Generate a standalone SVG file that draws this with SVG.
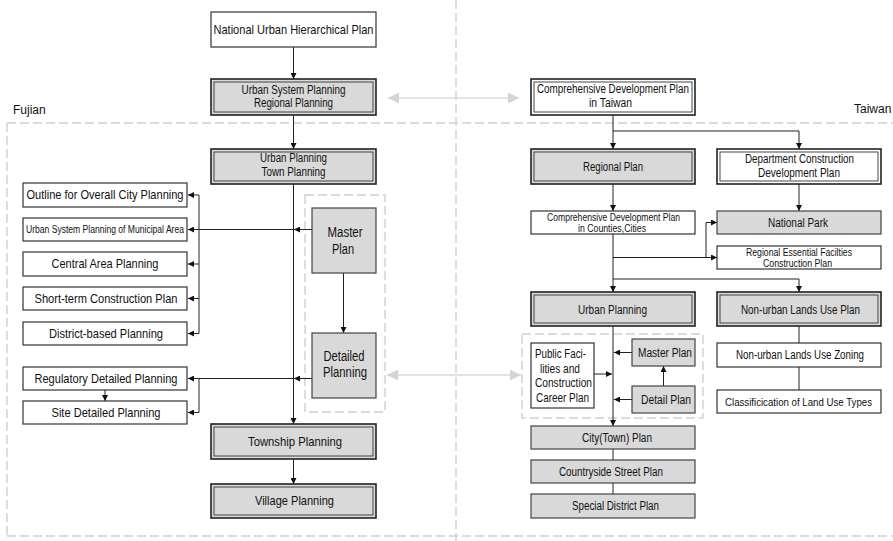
<svg xmlns="http://www.w3.org/2000/svg" width="893" height="541" viewBox="0 0 893 541">
<style>
text{font-family:"Liberation Sans",Arial,sans-serif;fill:#111;text-anchor:middle;font-size:12px}
.s10{font-size:10px}
.s13{font-size:13px}
.s14{font-size:14px}
.w{fill:#fff;stroke:#333;stroke-width:1.2}
.g{fill:#d9d9d9;stroke:#444;stroke-width:1.2}
.o{stroke:#222;stroke-width:1.6}
.i{fill:none;stroke:#333;stroke-width:0.9}
.dash{fill:none;stroke:#cfcfcf;stroke-width:1.4;stroke-dasharray:9 4}
.c{fill:none;stroke:#222;stroke-width:1}
.ga{fill:none;stroke:#dadada;stroke-width:1.5}
.lbl{text-anchor:start}
</style>
<defs>
<marker id="ah" viewBox="0 0 10 10" refX="10" refY="5" markerWidth="6" markerHeight="6" markerUnits="userSpaceOnUse" orient="auto"><path d="M0,0 L10,5 L0,10 z" fill="#111"/></marker>
<marker id="gah" viewBox="0 0 10 10" refX="10" refY="5" markerWidth="11" markerHeight="11" markerUnits="userSpaceOnUse" orient="auto-start-reverse"><path d="M0,0 L10,5 L0,10 z" fill="#d4d4d4"/></marker>
</defs>

<g id="regions">
<path class="dash" d="M456,0 V541"/>
<path class="dash" d="M7,123 H893"/>
<path class="dash" d="M7,536 H893"/>
<path class="dash" d="M7,123 V536"/>
<rect class="dash" x="305" y="195" width="80" height="217"/>
<rect class="dash" x="522" y="334" width="181" height="84"/>
<text class="lbl" x="13" y="114">Fujian</text>
<text class="lbl" x="854" y="113">Taiwan</text>
</g>

<g id="connectors">
<path class="ga" d="M388,98 H519" marker-start="url(#gah)" marker-end="url(#gah)"/>
<path class="ga" d="M387,375 H521" marker-start="url(#gah)" marker-end="url(#gah)"/>
<!-- Fujian -->
<path class="c" d="M293.5,47 V79" marker-end="url(#ah)"/>
<path class="c" d="M293.5,115 V149" marker-end="url(#ah)"/>
<path class="c" d="M293.5,184 V424" marker-end="url(#ah)"/>
<path class="c" d="M293.5,459 V484" marker-end="url(#ah)"/>
<path class="c" d="M343.5,273 V333" marker-end="url(#ah)"/>
<path class="c" d="M312,229.5 H294" marker-end="url(#ah)"/>
<path class="c" d="M293,229.5 H188" marker-end="url(#ah)"/>
<path class="c" d="M199,195 V333.5"/>
<path class="c" d="M199,195 H188" marker-end="url(#ah)"/>
<path class="c" d="M199,264 H188" marker-end="url(#ah)"/>
<path class="c" d="M199,298.5 H188" marker-end="url(#ah)"/>
<path class="c" d="M199,333.5 H188" marker-end="url(#ah)"/>
<path class="c" d="M312,378.5 H294" marker-end="url(#ah)"/>
<path class="c" d="M293,378.5 H188" marker-end="url(#ah)"/>
<path class="c" d="M199,378.5 V412.5 H188" marker-end="url(#ah)"/>
<path class="c" d="M105,390 V401" marker-end="url(#ah)"/>
<!-- Taiwan -->
<path class="c" d="M613,115 V149" marker-end="url(#ah)"/>
<path class="c" d="M613,131 H799 V149" marker-end="url(#ah)"/>
<path class="c" d="M613,184 V211" marker-end="url(#ah)"/>
<path class="c" d="M799,184 V211" marker-end="url(#ah)"/>
<path class="c" d="M613,234 V292" marker-end="url(#ah)"/>
<path class="c" d="M613,257.5 H717" marker-end="url(#ah)"/>
<path class="c" d="M706,257.5 V222.5 H717" marker-end="url(#ah)"/>
<path class="c" d="M613,279 H799 V292" marker-end="url(#ah)"/>
<path class="c" d="M799,326 V343"/>
<path class="c" d="M799,367 V390"/>
<path class="c" d="M613,326 V426" marker-end="url(#ah)"/>
<path class="c" d="M632,352.5 H614" marker-end="url(#ah)"/>
<path class="c" d="M632,399.5 H614" marker-end="url(#ah)"/>
<path class="c" d="M594,374 H612" marker-end="url(#ah)"/>
<path class="c" d="M663.5,386 V366" marker-end="url(#ah)"/>
<path class="c" d="M613,449 V460"/>
<path class="c" d="M613,483 V494"/>
</g>

<!-- Fujian nodes -->
<g id="national-urban-hierarchical-plan">
<rect class="w" x="211" y="12" width="165" height="35"/>
<text class="s13" x="293.5" y="34" textLength="160" lengthAdjust="spacingAndGlyphs">National Urban Hierarchical Plan</text>
</g>
<g id="urban-system-planning">
<rect class="g o" x="211" y="79" width="165" height="36"/>
<rect class="i" x="214" y="82" width="159" height="30"/>
<text x="293.5" y="94" textLength="104" lengthAdjust="spacingAndGlyphs">Urban System Planning</text>
<text x="293.5" y="107" textLength="79" lengthAdjust="spacingAndGlyphs">Regional Planning</text>
</g>
<g id="urban-planning-town-planning">
<rect class="g o" x="211" y="149" width="165" height="35"/>
<rect class="i" x="214" y="152" width="159" height="29"/>
<text x="293.5" y="162" textLength="67" lengthAdjust="spacingAndGlyphs">Urban Planning</text>
<text x="293.5" y="176" textLength="64" lengthAdjust="spacingAndGlyphs">Town Planning</text>
</g>
<g id="outline-overall-city">
<rect class="w" x="23" y="183" width="164" height="24"/>
<text class="s13" x="105" y="199" textLength="157" lengthAdjust="spacingAndGlyphs">Outline for Overall City Planning</text>
</g>
<g id="urban-system-municipal">
<rect class="w" x="23" y="218" width="164" height="23"/>
<text class="s10" x="105" y="233" textLength="158" lengthAdjust="spacingAndGlyphs">Urban System Planning of Municipal Area</text>
</g>
<g id="central-area-planning">
<rect class="w" x="23" y="252" width="164" height="24"/>
<text class="s13" x="105" y="268" textLength="107" lengthAdjust="spacingAndGlyphs">Central Area Planning</text>
</g>
<g id="short-term-construction-plan">
<rect class="w" x="23" y="287" width="164" height="23"/>
<text class="s13" x="106" y="303" textLength="143" lengthAdjust="spacingAndGlyphs">Short-term Construction Plan</text>
</g>
<g id="district-based-planning">
<rect class="w" x="23" y="322" width="164" height="23"/>
<text class="s13" x="106" y="338" textLength="114" lengthAdjust="spacingAndGlyphs">District-based Planning</text>
</g>
<g id="regulatory-detailed-planning">
<rect class="w" x="23" y="367" width="164" height="23"/>
<text class="s13" x="106" y="383" textLength="143" lengthAdjust="spacingAndGlyphs">Regulatory Detailed Planning</text>
</g>
<g id="site-detailed-planning">
<rect class="w" x="23" y="401" width="164" height="23"/>
<text class="s13" x="106" y="417" textLength="109" lengthAdjust="spacingAndGlyphs">Site Detailed Planning</text>
</g>
<g id="fujian-master-plan">
<rect class="g" x="312" y="208" width="64" height="65"/>
<text class="s14" x="345" y="237" textLength="35" lengthAdjust="spacingAndGlyphs">Master</text>
<text class="s14" x="343" y="254" textLength="22" lengthAdjust="spacingAndGlyphs">Plan</text>
</g>
<g id="fujian-detailed-planning">
<rect class="g" x="312" y="333" width="64" height="65"/>
<text class="s14" x="344" y="361" textLength="41" lengthAdjust="spacingAndGlyphs">Detailed</text>
<text class="s14" x="345" y="377" textLength="44" lengthAdjust="spacingAndGlyphs">Planning</text>
</g>
<g id="township-planning">
<rect class="g o" x="211" y="424" width="165" height="35"/>
<rect class="i" x="214" y="427" width="159" height="29"/>
<text class="s13" x="295" y="446" textLength="94" lengthAdjust="spacingAndGlyphs">Township Planning</text>
</g>
<g id="village-planning">
<rect class="g o" x="211" y="484" width="165" height="34"/>
<rect class="i" x="214" y="487" width="159" height="28"/>
<text class="s13" x="294.5" y="505" textLength="79" lengthAdjust="spacingAndGlyphs">Village Planning</text>
</g>

<!-- Taiwan nodes -->
<g id="comprehensive-development-plan-taiwan">
<rect class="w o" x="531" y="79" width="164" height="36"/>
<rect class="i" x="534" y="82" width="158" height="30"/>
<text x="613" y="93" textLength="152" lengthAdjust="spacingAndGlyphs">Comprehensive Development Plan</text>
<text x="610.5" y="107" textLength="43" lengthAdjust="spacingAndGlyphs">in Taiwan</text>
</g>
<g id="regional-plan">
<rect class="g o" x="531" y="149" width="164" height="35"/>
<rect class="i" x="534" y="152" width="158" height="29"/>
<text x="613" y="171" textLength="60" lengthAdjust="spacingAndGlyphs">Regional Plan</text>
</g>
<g id="department-construction-development-plan">
<rect class="w o" x="717" y="149" width="164" height="35"/>
<rect class="i" x="720" y="152" width="158" height="29"/>
<text x="799.5" y="163" textLength="109" lengthAdjust="spacingAndGlyphs">Department Construction</text>
<text x="799" y="177" textLength="82" lengthAdjust="spacingAndGlyphs">Development Plan</text>
</g>
<g id="comprehensive-development-plan-counties">
<rect class="w" x="531" y="211" width="164" height="23"/>
<text class="s10" x="613.5" y="221" textLength="133" lengthAdjust="spacingAndGlyphs">Comprehensive Development Plan</text>
<text class="s10" x="612" y="232" textLength="68" lengthAdjust="spacingAndGlyphs">in Counties,Cities</text>
</g>
<g id="national-park">
<rect class="g" x="717" y="211" width="164" height="23"/>
<text x="798" y="227" textLength="60" lengthAdjust="spacingAndGlyphs">National Park</text>
</g>
<g id="regional-essential-facilities">
<rect class="w" x="717" y="246" width="164" height="23"/>
<text class="s10" x="799" y="256" textLength="106" lengthAdjust="spacingAndGlyphs">Regional Essential Facilties</text>
<text class="s10" x="797.5" y="267" textLength="69" lengthAdjust="spacingAndGlyphs">Construction Plan</text>
</g>
<g id="taiwan-urban-planning">
<rect class="g o" x="531" y="292" width="164" height="34"/>
<rect class="i" x="534" y="295" width="158" height="28"/>
<text x="612.5" y="314" textLength="69" lengthAdjust="spacingAndGlyphs">Urban Planning</text>
</g>
<g id="non-urban-lands-use-plan">
<rect class="g o" x="717" y="292" width="164" height="34"/>
<rect class="i" x="720" y="295" width="158" height="28"/>
<text x="800.5" y="314" textLength="119" lengthAdjust="spacingAndGlyphs">Non-urban Lands Use Plan</text>
</g>
<g id="non-urban-lands-use-zoning">
<rect class="w" x="717" y="343" width="164" height="24"/>
<text x="800" y="359" textLength="128" lengthAdjust="spacingAndGlyphs">Non-urban Lands Use Zoning</text>
</g>
<g id="classification-land-use-types">
<rect class="w" x="717" y="390" width="164" height="23"/>
<text style="font-size:11px" x="798.5" y="406" textLength="147" lengthAdjust="spacingAndGlyphs">Classificication of Land Use Types</text>
</g>
<g id="public-facilities-construction-career-plan">
<rect class="w" x="531" y="343" width="63" height="65"/>
<text x="560.5" y="358" textLength="51" lengthAdjust="spacingAndGlyphs">Public Faci-</text>
<text x="560" y="373" textLength="40" lengthAdjust="spacingAndGlyphs">lities and</text>
<text x="563.5" y="387" textLength="57" lengthAdjust="spacingAndGlyphs">Construction</text>
<text x="562.5" y="402" textLength="53" lengthAdjust="spacingAndGlyphs">Career Plan</text>
</g>
<g id="taiwan-master-plan">
<rect class="g" x="632" y="339" width="63" height="27"/>
<text x="665" y="357" textLength="54" lengthAdjust="spacingAndGlyphs">Master Plan</text>
</g>
<g id="taiwan-detail-plan">
<rect class="g" x="632" y="386" width="63" height="27"/>
<text x="666" y="404" textLength="50" lengthAdjust="spacingAndGlyphs">Detail Plan</text>
</g>
<g id="city-town-plan">
<rect class="g" x="531" y="426" width="164" height="23"/>
<text x="617" y="442" textLength="70" lengthAdjust="spacingAndGlyphs">City(Town) Plan</text>
</g>
<g id="countryside-street-plan">
<rect class="g" x="531" y="460" width="164" height="23"/>
<text x="611" y="476" textLength="104" lengthAdjust="spacingAndGlyphs">Countryside Street Plan</text>
</g>
<g id="special-district-plan">
<rect class="g" x="531" y="494" width="164" height="24"/>
<text x="615.5" y="510" textLength="87" lengthAdjust="spacingAndGlyphs">Special District Plan</text>
</g>
</svg>
